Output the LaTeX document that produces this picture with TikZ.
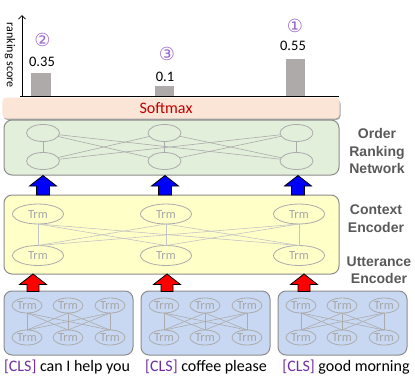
\documentclass[tikz,border=0pt]{standalone}
\usepackage{fontspec}
\setmainfont{Carlito}
\newfontfamily\labfont{Liberation Sans}
\newfontfamily\symfont{DejaVu Sans}
\usetikzlibrary{shapes.geometric,arrows.meta}
\definecolor{peach}{HTML}{FBE5D6}
\definecolor{greenf}{HTML}{E2EFDA}
\definecolor{yellowf}{HTML}{FFFFC8}
\definecolor{bluef}{HTML}{C8D8F2}
\definecolor{boxline}{HTML}{8C8C8C}
\definecolor{netline}{HTML}{ABABAB}
\definecolor{trmtext}{HTML}{A6A6A6}
\definecolor{clscol}{HTML}{7030A0}
\definecolor{circcol}{HTML}{9966CC}
\definecolor{labgray}{HTML}{595959}
\definecolor{barcol}{HTML}{AEAAAA}
\definecolor{softred}{HTML}{C00000}
\tikzset{
  bigbox/.style={draw=boxline, line width=1bp, rounded corners=8bp, inner sep=0pt, outer sep=0pt, anchor=north west},
  ell/.style={ellipse, draw=netline, line width=0.8bp, inner sep=0pt, outer sep=0pt},
  trm/.style={ell, text=trmtext, font=\fontsize{12.5bp}{14bp}\selectfont},
  netln/.style={draw=netline, line width=0.6bp},
  ynetln/.style={draw=netline!70, line width=0.6bp},
  sidelab/.style={font=\labfont\bfseries\fontsize{14bp}{17.5bp}\selectfont, text=labgray, align=center},
  sent/.style={font=\fontsize{16bp}{18bp}\selectfont},
  score/.style={font=\fontsize{14.5bp}{16bp}\selectfont},
  circnum/.style={font=\symfont\fontsize{18bp}{20bp}\selectfont, text=circcol},
  uparrow/.pic={\draw[black, line width=0.8bp, fill=#1, line join=miter]
     (-6.5,0) -- (-6.5,-9) -- (-13.5,-9) -- (0,-19.5) -- (13.5,-9) -- (6.5,-9) -- (6.5,0) -- cycle;},
  redarrow/.pic={\draw[black, line width=0.8bp, fill=#1, line join=miter]
     (-6,0) -- (-6,-7) -- (-13.5,-7) -- (0,-17.5) -- (13.5,-7) -- (6,-7) -- (6,0) -- cycle;}
}
\begin{document}
\begin{tikzpicture}[x=1bp,y=-1bp]
\useasboundingbox (0,0) rectangle (415,384);

% axis and bars
\coordinate (axb) at (22,96);
\coordinate (axt) at (22,15);
\coordinate (axr) at (339,96);
\draw[line width=0.8bp, -{Straight Barb[length=3.5bp,width=7bp]}] (axb) -- (axt);
\node[rotate=-90, font=\fontsize{12bp}{14bp}\selectfont] (rs) at (10,55) {ranking score};
\fill[barcol] (31,73) rectangle (51,96);
\fill[barcol] (155,86) rectangle (174,96);
\fill[barcol] (286,59) rectangle (305,96);
\node[score] (s1) at (42,62) {0.35};
\node[score] (s2) at (165,77) {0.1};
\node[score] (s3) at (293,46) {0.55};
\node[circnum] (c2) at (42.5,40) {②};
\node[circnum] (c3) at (167,53.5) {③};
\node[circnum] (c1) at (295,26) {①};

% softmax
\fill[black!35, rounded corners=4bp] (3.5,99.5) rectangle (340.5,120);
\fill[peach, rounded corners=4bp] (2.5,97.5) rectangle (339.5,118.5);
\draw[line width=0.9bp] (20,96) -- (axr);
\node[font=\fontsize{16bp}{18bp}\selectfont, text=softred] (soft) at (166,108) {Softmax};

% order ranking network
\node[bigbox, fill=greenf, minimum width=335bp, minimum height=55bp] (orn) at (4,120) {};
\foreach \n/\x in {1/43,2/164.5,3/296.5}{
  \node[ell, minimum width=33bp, minimum height=17bp] (g\n t) at (\x,133) {};
  \node[ell, minimum width=33bp, minimum height=17bp] (g\n b) at (\x,161) {};
}
\foreach \i in {1,2,3}{\foreach \j in {1,2,3}{
  \draw[netln] (g\i t) -- (g\j b);
}}

% context encoder
\node[bigbox, fill=yellowf, minimum width=335bp, minimum height=79bp] (ctx) at (4,195) {};
\foreach \n/\x in {1/38,2/166,3/299}{
  \node[trm, minimum width=51bp, minimum height=20bp] (y\n t) at (\x,214) {Trm};
  \node[trm, minimum width=51bp, minimum height=20bp] (y\n b) at (\x,255.5) {Trm};
}
\foreach \i in {1,2,3}{\foreach \j in {1,2,3}{
  \draw[ynetln] (y\i t.south) -- (y\j b.north);
}}

% utterance encoders
\foreach \k/\bx in {1/4,2/141,3/278}{
  \node[bigbox, fill=bluef, minimum width=129bp, minimum height=64bp] (u\k) at (\bx,291) {};
  \foreach \n/\o in {1/23,2/64,3/106}{
    \node[trm, minimum width=30bp, minimum height=15bp] (u\k t\n) at (\bx+\o,305.5) {Trm};
    \node[trm, minimum width=30bp, minimum height=15bp] (u\k b\n) at (\bx+\o,337.5) {Trm};
  }
  \foreach \i in {1,2,3}{\foreach \j in {1,2,3}{
    \draw[netln] (u\k t\i.south) -- (u\k b\j.north);
  }}
}

% block arrows
\foreach \x in {43,165,298}{ \pic at (\x,195) {uparrow=blue}; }
\foreach \x in {33,167,304}{ \pic at (\x,291.5) {redarrow=red}; }

% sentences
\node[sent] (t1) at (67,367) {\textcolor{clscol}{[CLS]} can I help you};
\node[sent] (t2) at (206,367) {\textcolor{clscol}{[CLS]} coffee please};
\node[sent] (t3) at (346,367) {\textcolor{clscol}{[CLS]} good morning};

% side labels
\node[sidelab] (l1) at (377,151) {Order\\Ranking\\Network};
\node[sidelab] (l2) at (376,218.5) {Context\\Encoder};
\node[sidelab] (l3) at (379,270) {Utterance\\Encoder};
\end{tikzpicture}
\end{document}
